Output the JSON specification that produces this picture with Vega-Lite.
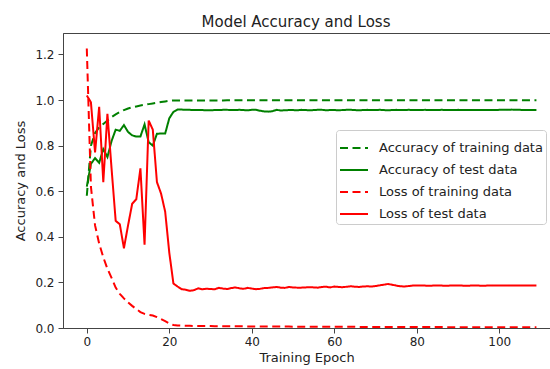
{
  "$schema": "https://vega.github.io/schema/vega-lite/v6.json",
  "autosize": "none",
  "width": 487,
  "height": 295,
  "padding": {"left": 63, "top": 33, "right": 0, "bottom": 41},
  "background": "white",
  "title": {"text": "Model Accuracy and Loss", "fontSize": 15, "font": "DejaVu Sans", "fontWeight": "normal", "color": "#222222", "anchor": "middle", "dx": -10.5, "dy": 17, "offset": 8, "baseline": "alphabetic"},
  "config": {
    "view": {"stroke": "#444444", "strokeWidth": 1},
    "axis": {"grid": false, "domainColor": "#444444", "tickColor": "#444444", "tickSize": 5, "labelFont": "DejaVu Sans", "labelFontSize": 12, "labelColor": "#222222", "titleFont": "DejaVu Sans", "titleFontSize": 13, "titleFontWeight": "normal", "titleColor": "#222222"},
    "legend": {"labelFont": "DejaVu Sans", "labelFontSize": 13, "labelColor": "#222222", "labelLimit": 400}
  },
  "data": {"values": [
    {"e":0,"train_acc":0.58,"test_acc":0.62,"train_loss":1.226,"test_loss":1.02},
    {"e":1,"train_acc":0.80,"test_acc":0.72,"train_loss":0.62,"test_loss":0.99},
    {"e":2,"train_acc":0.855,"test_acc":0.745,"train_loss":0.45,"test_loss":0.77},
    {"e":3,"train_acc":0.88,"test_acc":0.725,"train_loss":0.37,"test_loss":0.97},
    {"e":4,"train_acc":0.895,"test_acc":0.785,"train_loss":0.31,"test_loss":0.64},
    {"e":5,"train_acc":0.91,"test_acc":0.75,"train_loss":0.26,"test_loss":0.94},
    {"e":6,"train_acc":0.925,"test_acc":0.82,"train_loss":0.22,"test_loss":0.70},
    {"e":7,"train_acc":0.937,"test_acc":0.87,"train_loss":0.177,"test_loss":0.47},
    {"e":8,"train_acc":0.947,"test_acc":0.865,"train_loss":0.15,"test_loss":0.455},
    {"e":9,"train_acc":0.956,"test_acc":0.89,"train_loss":0.13,"test_loss":0.35},
    {"e":10,"train_acc":0.963,"test_acc":0.86,"train_loss":0.112,"test_loss":0.45},
    {"e":11,"train_acc":0.968,"test_acc":0.845,"train_loss":0.097,"test_loss":0.545},
    {"e":12,"train_acc":0.972,"test_acc":0.84,"train_loss":0.083,"test_loss":0.565},
    {"e":13,"train_acc":0.976,"test_acc":0.84,"train_loss":0.07,"test_loss":0.70},
    {"e":14,"train_acc":0.979,"test_acc":0.893,"train_loss":0.062,"test_loss":0.365},
    {"e":15,"train_acc":0.982,"test_acc":0.815,"train_loss":0.058,"test_loss":0.91},
    {"e":16,"train_acc":0.985,"test_acc":0.80,"train_loss":0.055,"test_loss":0.87},
    {"e":17,"train_acc":0.988,"test_acc":0.852,"train_loss":0.048,"test_loss":0.64},
    {"e":18,"train_acc":0.991,"test_acc":0.853,"train_loss":0.039,"test_loss":0.59},
    {"e":19,"train_acc":0.994,"test_acc":0.853,"train_loss":0.03,"test_loss":0.51},
    {"e":20,"train_acc":0.997,"test_acc":0.92,"train_loss":0.02,"test_loss":0.33},
    {"e":21,"train_acc":0.998,"test_acc":0.948,"train_loss":0.013,"test_loss":0.195},
    {"e":22,"train_acc":0.998,"test_acc":0.958,"train_loss":0.011,"test_loss":0.182},
    {"e":23,"train_acc":0.998,"test_acc":0.958,"train_loss":0.0102,"test_loss":0.170},
    {"e":24,"train_acc":0.998,"test_acc":0.957,"train_loss":0.0098,"test_loss":0.168},
    {"e":25,"train_acc":0.998,"test_acc":0.957,"train_loss":0.0095,"test_loss":0.163},
    {"e":26,"train_acc":0.998,"test_acc":0.956,"train_loss":0.0092,"test_loss":0.166},
    {"e":27,"train_acc":0.998,"test_acc":0.956,"train_loss":0.009,"test_loss":0.174},
    {"e":28,"train_acc":0.998,"test_acc":0.956,"train_loss":0.0088,"test_loss":0.170},
    {"e":29,"train_acc":0.998,"test_acc":0.955,"train_loss":0.0086,"test_loss":0.172},
    {"e":30,"train_acc":0.998,"test_acc":0.955,"train_loss":0.0084,"test_loss":0.171},
    {"e":31,"train_acc":0.998,"test_acc":0.956,"train_loss":0.0082,"test_loss":0.170},
    {"e":32,"train_acc":0.998,"test_acc":0.956,"train_loss":0.008,"test_loss":0.176},
    {"e":33,"train_acc":0.998,"test_acc":0.957,"train_loss":0.0079,"test_loss":0.173},
    {"e":34,"train_acc":0.999,"test_acc":0.957,"train_loss":0.0077,"test_loss":0.171},
    {"e":35,"train_acc":0.999,"test_acc":0.956,"train_loss":0.0076,"test_loss":0.175},
    {"e":36,"train_acc":0.999,"test_acc":0.956,"train_loss":0.0075,"test_loss":0.178},
    {"e":37,"train_acc":0.999,"test_acc":0.957,"train_loss":0.0073,"test_loss":0.174},
    {"e":38,"train_acc":0.999,"test_acc":0.956,"train_loss":0.0072,"test_loss":0.172},
    {"e":39,"train_acc":0.999,"test_acc":0.955,"train_loss":0.0071,"test_loss":0.176},
    {"e":40,"train_acc":0.999,"test_acc":0.957,"train_loss":0.007,"test_loss":0.173},
    {"e":41,"train_acc":0.999,"test_acc":0.957,"train_loss":0.0069,"test_loss":0.170},
    {"e":42,"train_acc":0.999,"test_acc":0.953,"train_loss":0.0068,"test_loss":0.172},
    {"e":43,"train_acc":0.999,"test_acc":0.950,"train_loss":0.0067,"test_loss":0.175},
    {"e":44,"train_acc":0.999,"test_acc":0.949,"train_loss":0.0066,"test_loss":0.176},
    {"e":45,"train_acc":0.999,"test_acc":0.951,"train_loss":0.0065,"test_loss":0.178},
    {"e":46,"train_acc":0.999,"test_acc":0.957,"train_loss":0.0064,"test_loss":0.180},
    {"e":47,"train_acc":0.999,"test_acc":0.954,"train_loss":0.0063,"test_loss":0.177},
    {"e":48,"train_acc":0.999,"test_acc":0.955,"train_loss":0.0062,"test_loss":0.176},
    {"e":49,"train_acc":0.999,"test_acc":0.956,"train_loss":0.0061,"test_loss":0.180},
    {"e":50,"train_acc":0.999,"test_acc":0.956,"train_loss":0.006,"test_loss":0.178},
    {"e":51,"train_acc":0.999,"test_acc":0.955,"train_loss":0.0059,"test_loss":0.177},
    {"e":52,"train_acc":0.999,"test_acc":0.957,"train_loss":0.0058,"test_loss":0.177},
    {"e":53,"train_acc":0.999,"test_acc":0.956,"train_loss":0.0058,"test_loss":0.178},
    {"e":54,"train_acc":0.999,"test_acc":0.955,"train_loss":0.0057,"test_loss":0.179},
    {"e":55,"train_acc":0.999,"test_acc":0.956,"train_loss":0.0056,"test_loss":0.178},
    {"e":56,"train_acc":0.999,"test_acc":0.957,"train_loss":0.0055,"test_loss":0.177},
    {"e":57,"train_acc":0.999,"test_acc":0.957,"train_loss":0.0055,"test_loss":0.180},
    {"e":58,"train_acc":0.999,"test_acc":0.955,"train_loss":0.0054,"test_loss":0.181},
    {"e":59,"train_acc":0.999,"test_acc":0.956,"train_loss":0.0053,"test_loss":0.178},
    {"e":60,"train_acc":0.999,"test_acc":0.956,"train_loss":0.0053,"test_loss":0.182},
    {"e":61,"train_acc":0.999,"test_acc":0.955,"train_loss":0.0052,"test_loss":0.180},
    {"e":62,"train_acc":0.999,"test_acc":0.956,"train_loss":0.0051,"test_loss":0.179},
    {"e":63,"train_acc":0.999,"test_acc":0.957,"train_loss":0.0051,"test_loss":0.181},
    {"e":64,"train_acc":0.999,"test_acc":0.957,"train_loss":0.005,"test_loss":0.183},
    {"e":65,"train_acc":0.999,"test_acc":0.956,"train_loss":0.005,"test_loss":0.181},
    {"e":66,"train_acc":0.999,"test_acc":0.955,"train_loss":0.0049,"test_loss":0.180},
    {"e":67,"train_acc":0.999,"test_acc":0.956,"train_loss":0.0048,"test_loss":0.182},
    {"e":68,"train_acc":0.999,"test_acc":0.957,"train_loss":0.0048,"test_loss":0.183},
    {"e":69,"train_acc":0.999,"test_acc":0.956,"train_loss":0.0047,"test_loss":0.182},
    {"e":70,"train_acc":0.999,"test_acc":0.956,"train_loss":0.0047,"test_loss":0.184},
    {"e":71,"train_acc":0.999,"test_acc":0.957,"train_loss":0.0046,"test_loss":0.187},
    {"e":72,"train_acc":0.999,"test_acc":0.956,"train_loss":0.0046,"test_loss":0.190},
    {"e":73,"train_acc":0.999,"test_acc":0.955,"train_loss":0.0045,"test_loss":0.193},
    {"e":74,"train_acc":0.999,"test_acc":0.956,"train_loss":0.0045,"test_loss":0.190},
    {"e":75,"train_acc":0.999,"test_acc":0.957,"train_loss":0.0044,"test_loss":0.186},
    {"e":76,"train_acc":0.999,"test_acc":0.956,"train_loss":0.0044,"test_loss":0.183},
    {"e":77,"train_acc":0.999,"test_acc":0.956,"train_loss":0.0043,"test_loss":0.182},
    {"e":78,"train_acc":0.999,"test_acc":0.957,"train_loss":0.0043,"test_loss":0.184},
    {"e":79,"train_acc":0.999,"test_acc":0.956,"train_loss":0.0042,"test_loss":0.186},
    {"e":80,"train_acc":0.999,"test_acc":0.956,"train_loss":0.0042,"test_loss":0.186},
    {"e":81,"train_acc":0.999,"test_acc":0.956,"train_loss":0.0041,"test_loss":0.186},
    {"e":82,"train_acc":0.999,"test_acc":0.957,"train_loss":0.0041,"test_loss":0.186},
    {"e":83,"train_acc":0.999,"test_acc":0.956,"train_loss":0.004,"test_loss":0.185},
    {"e":84,"train_acc":0.999,"test_acc":0.956,"train_loss":0.004,"test_loss":0.186},
    {"e":85,"train_acc":0.999,"test_acc":0.956,"train_loss":0.0039,"test_loss":0.186},
    {"e":86,"train_acc":0.999,"test_acc":0.957,"train_loss":0.0039,"test_loss":0.186},
    {"e":87,"train_acc":0.999,"test_acc":0.956,"train_loss":0.0038,"test_loss":0.185},
    {"e":88,"train_acc":0.999,"test_acc":0.956,"train_loss":0.0038,"test_loss":0.186},
    {"e":89,"train_acc":0.999,"test_acc":0.956,"train_loss":0.0037,"test_loss":0.186},
    {"e":90,"train_acc":0.999,"test_acc":0.957,"train_loss":0.0037,"test_loss":0.186},
    {"e":91,"train_acc":0.999,"test_acc":0.956,"train_loss":0.0036,"test_loss":0.186},
    {"e":92,"train_acc":0.999,"test_acc":0.956,"train_loss":0.0036,"test_loss":0.185},
    {"e":93,"train_acc":0.999,"test_acc":0.956,"train_loss":0.0035,"test_loss":0.186},
    {"e":94,"train_acc":0.999,"test_acc":0.956,"train_loss":0.0035,"test_loss":0.186},
    {"e":95,"train_acc":0.999,"test_acc":0.956,"train_loss":0.0034,"test_loss":0.186},
    {"e":96,"train_acc":0.999,"test_acc":0.956,"train_loss":0.0034,"test_loss":0.185},
    {"e":97,"train_acc":0.999,"test_acc":0.956,"train_loss":0.0033,"test_loss":0.186},
    {"e":98,"train_acc":0.999,"test_acc":0.956,"train_loss":0.0033,"test_loss":0.186},
    {"e":99,"train_acc":0.999,"test_acc":0.956,"train_loss":0.0033,"test_loss":0.186},
    {"e":100,"train_acc":0.999,"test_acc":0.957,"train_loss":0.0032,"test_loss":0.186},
    {"e":101,"train_acc":0.999,"test_acc":0.957,"train_loss":0.0032,"test_loss":0.186},
    {"e":102,"train_acc":0.999,"test_acc":0.957,"train_loss":0.0031,"test_loss":0.186},
    {"e":103,"train_acc":0.999,"test_acc":0.958,"train_loss":0.0031,"test_loss":0.186},
    {"e":104,"train_acc":0.999,"test_acc":0.957,"train_loss":0.003,"test_loss":0.186},
    {"e":105,"train_acc":0.999,"test_acc":0.957,"train_loss":0.003,"test_loss":0.186},
    {"e":106,"train_acc":0.999,"test_acc":0.956,"train_loss":0.003,"test_loss":0.186},
    {"e":107,"train_acc":0.999,"test_acc":0.956,"train_loss":0.0029,"test_loss":0.186},
    {"e":108,"train_acc":0.999,"test_acc":0.956,"train_loss":0.0029,"test_loss":0.186},
    {"e":109,"train_acc":0.999,"test_acc":0.956,"train_loss":0.0029,"test_loss":0.186}
  ]},
  "transform": [{"fold": ["train_acc", "test_acc", "train_loss", "test_loss"], "as": ["k", "v"]}],
  "mark": {"type": "line", "strokeWidth": 2, "clip": true},
  "encoding": {
    "x": {"field": "e", "type": "quantitative", "scale": {"domain": [-5.77, 112.29], "nice": false, "zero": false},
          "axis": {"values": [0, 20, 40, 60, 80, 100], "title": "Training Epoch", "labelPadding": 3, "titlePadding": 4}},
    "y": {"field": "v", "type": "quantitative", "scale": {"domain": [0, 1.294], "nice": false},
          "axis": {"values": [0, 0.2, 0.4, 0.6, 0.8, 1.0, 1.2], "format": ".1f", "title": "Accuracy and Loss", "labelPadding": 4, "titlePadding": 7}},
    "color": {"field": "k", "type": "nominal", "title": null,
              "scale": {"domain": ["train_acc", "test_acc", "train_loss", "test_loss"], "range": ["#008000", "#008000", "#ff0000", "#ff0000"]},
              "legend": {"orient": "none", "legendX": 273, "legendY": 97, "symbolType": "stroke", "symbolSize": 784, "symbolStrokeWidth": 2, "labelOffset": 10, "rowPadding": -2, "padding": 3, "fillColor": "rgba(255,255,255,0.8)", "strokeColor": "#cccccc", "cornerRadius": 3,
                         "labelExpr": "{'train_acc': 'Accuracy of training data', 'test_acc': 'Accuracy of test data', 'train_loss': 'Loss of training data', 'test_loss': 'Loss of test data'}[datum.label]"}},
    "strokeDash": {"field": "k", "type": "nominal", "title": null,
                   "scale": {"domain": ["train_acc", "test_acc", "train_loss", "test_loss"], "range": [[8, 4.5], [1, 0], [8, 4.5], [1, 0]]}}
  }
}
